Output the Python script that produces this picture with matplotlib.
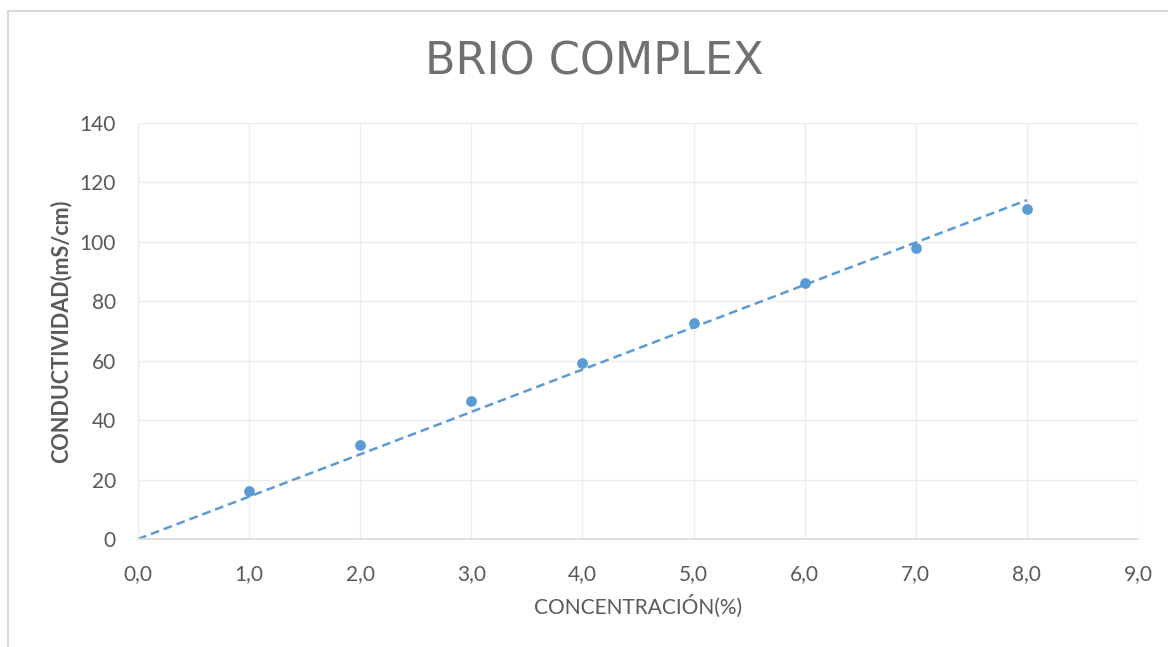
import numpy as np
import matplotlib.pyplot as plt
from matplotlib.patches import Rectangle

# data
concentracion = [1, 2, 3, 4, 5, 6, 7, 8]
conductividad = [16.2, 31.6, 46.4, 59.2, 72.7, 86.0, 97.9, 111.0]

x_ticks = np.arange(0, 10, 1)
y_ticks = np.arange(0, 160, 20)

blue = "#5b9bd5"
gray = "#595959"

plt.rcParams['font.family'] = ['Lato', 'DejaVu Sans']

fig = plt.figure(figsize=(11.68, 6.47), dpi=100)
ax = fig.add_axes([138 / 1168, 1 - 539 / 647, 1000 / 1168, 416 / 647])

# outer chart frame
fig.patches.append(Rectangle((8 / 1168, -0.1), 1.2, 1 - 11 / 647 + 0.1,
                             transform=fig.transFigure, fill=False,
                             edgecolor="#d9d9d9", linewidth=1.5))

ax.scatter(concentracion, conductividad, s=45, color=blue, zorder=3)

# linear trend line through the origin
x = np.array(concentracion, dtype=float)
y = np.array(conductividad)
slope = (x * y).sum() / (x * x).sum()
xt = np.array([0, 8])
ax.plot(xt, slope * xt, linestyle=(0, (3.5, 2)), color=blue, linewidth=1.8, zorder=2)

ax.set_xlim(0, 9)
ax.set_ylim(0, 140)
ax.set_xticks(x_ticks)
ax.set_yticks(y_ticks)
ax.set_xticklabels([f"{v:.1f}".replace(".", ",") for v in x_ticks])
ax.set_yticklabels([str(v) for v in y_ticks])
ax.tick_params(length=0, labelsize=15, colors=gray)
ax.tick_params(axis='y', pad=16)
ax.tick_params(axis='x', pad=18)

ax.grid(True, color="#ececec", linewidth=1)
ax.set_axisbelow(True)
for side in ["top", "right"]:
    ax.spines[side].set_visible(False)
ax.spines["left"].set_color("#ececec")
ax.spines["bottom"].set_color("#d9d9d9")
ax.spines["bottom"].set_linewidth(1.2)

ax.set_xlabel("CONCENTRACIÓN(%)", fontsize=15, color=gray, labelpad=8)
ax.set_ylabel("CONDUCTIVIDAD(mS/cm)", fontsize=15.5, color=gray, labelpad=6,
              fontweight="bold")

fig.text(594 / 1168, 1 - 62 / 647, "BRIO COMPLEX", fontsize=32, color="#707070",
         ha="center", va="center", family=["DejaVu Sans"])

fig.savefig("out.png", dpi=100)
